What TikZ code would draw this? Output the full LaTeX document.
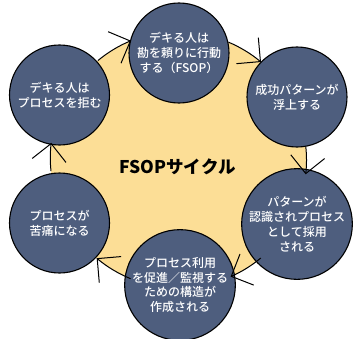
\documentclass[tikz,border=0pt]{standalone}
\usepackage{fontspec}
\setmainfont{Noto Sans CJK JP}
\newfontfamily\jpmedium{Noto Sans CJK JP Medium}
\usetikzlibrary{arrows.meta}
\definecolor{cycyellow}{RGB}{252,222,150}
\definecolor{stepblue}{RGB}{78,94,126}
\tikzset{
  stepnode/.style={circle, draw=black, line width=1.1pt, fill=stepblue,
    minimum size=100pt, inner sep=0pt, outer sep=0pt, text=white,
    align=center, font=\jpmedium\fontsize{12}{14.8}\selectfont},
  cycarrow/.style={draw=black, line width=1pt,
    -{Straight Barb[length=17pt,width=34pt]}},
}
\begin{document}
\begin{tikzpicture}[x=1pt,y=1pt]
\useasboundingbox (0,0) rectangle (361,338);
\node[circle, fill=cycyellow, minimum size=256pt, inner sep=0pt, outer sep=0pt] (cyc) at (178.5,178) {};
\node[font=\fontsize{17.5}{20}\selectfont\bfseries] (title) at (177.5,171) {FSOPサイクル};
\node[stepnode] (a) at (179,285) {デキる人は\\勘を頼りに行動\\する（FSOP）};
\node[stepnode] (b) at (297,241) {成功パターンが\\浮上する};
\node[stepnode] (c) at (297,114) {パターンが\\認識されプロセス\\として採用\\される};
\node[stepnode] (d) at (180,53) {プロセス利用\\を促進／監視する\\ための構造が\\作成される};
\node[stepnode] (e) at (59.5,115) {プロセスが\\苦痛になる};
\node[stepnode] (f) at (59.5,243) {デキる人は\\プロセスを拒む};
\draw[cycarrow] (cyc.129.6) arc[start angle=129.6, end angle=112.3, radius=128pt];
\draw[cycarrow] (cyc.67.1) arc[start angle=67.1, end angle=50, radius=128pt];
\draw[cycarrow] (cyc.6) arc[start angle=6, end angle=-6.4, radius=128pt];
\draw[cycarrow] (cyc.-50.4) arc[start angle=-50.4, end angle=-66.3, radius=128pt];
\draw[cycarrow] (cyc.-112.3) arc[start angle=-112.3, end angle=-130.1, radius=128pt];
\draw[cycarrow] (cyc.185.9) arc[start angle=185.9, end angle=173.2, radius=128pt];
\end{tikzpicture}
\end{document}
